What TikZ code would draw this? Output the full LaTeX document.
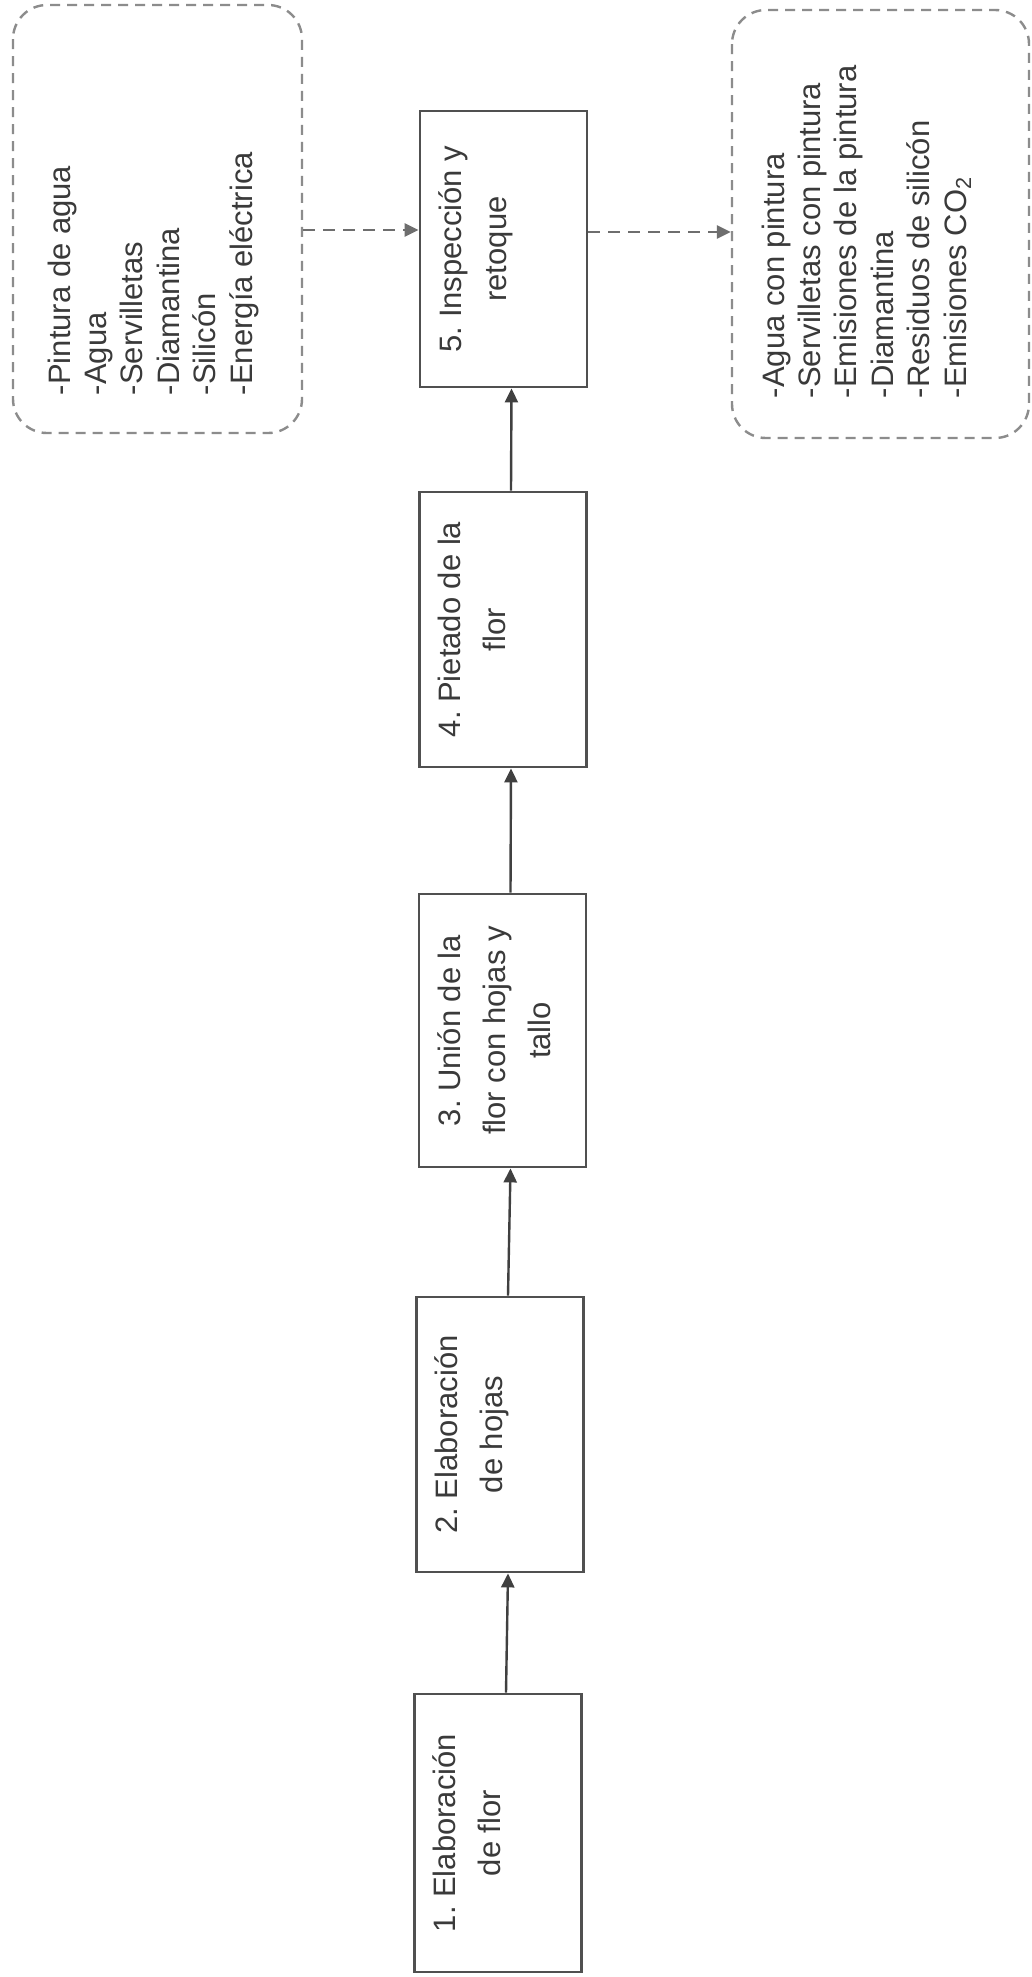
\documentclass[tikz,border=0pt]{standalone}
\usepackage{fontspec}
\setmainfont{Liberation Sans}
\usetikzlibrary{arrows.meta}
\definecolor{boxline}{HTML}{505050}
\definecolor{txt}{HTML}{3A3A3A}
\definecolor{dline}{HTML}{8C8C8C}
\definecolor{darrow}{HTML}{6E6E6E}
\definecolor{sarrow}{HTML}{404040}
\frenchspacing
\newcommand\steptext[2]{\parbox[c][83.5pt][t]{#1}{\centering\fontsize{15.5pt}{22.5pt}\selectfont\rule{0pt}{20.5pt}#2}}
\newcommand\listtext[5]{\parbox[c][#2][t]{#1}{\raggedright\leftskip=#3\relax\fontsize{15.5pt}{18.2pt}\selectfont\rule{0pt}{#4}#5}}
\begin{document}
\begin{tikzpicture}[x=0.5pt,y=-0.5pt,
 stepbox/.style={draw=boxline,line width=1.4pt,rotate=90,inner sep=0pt,text=txt},
 listbox/.style={draw=dline,line width=1.2pt,dash pattern=on 5pt off 3.5pt,rounded corners=17pt,rotate=90,inner sep=0pt,text=txt},
 flow/.style={draw=sarrow,line width=1.2pt,-{Triangle[length=7pt,width=6.5pt]}},
 dflow/.style={draw=darrow,line width=1.3pt,dash pattern=on 6pt off 4pt,-{Triangle[length=7pt,width=6.5pt]}}]
\useasboundingbox (0,0) rectangle (1032,1977);
\fill[white] (0,0) rectangle (1032,1977);

\node[stepbox] (b1) at (498,1833) {\steptext{139pt}{1. Elaboración\\de flor}};
\node[stepbox] (b2) at (500,1434.5) {\steptext{137.5pt}{2. Elaboración\\de hojas}};
\node[stepbox] (b3) at (502.5,1030.5) {\steptext{136.5pt}{3. Unión de la\\flor con hojas y\\tallo}};
\node[stepbox] (b4) at (503,629.5) {\steptext{137.5pt}{4. Pietado de la\\flor}};
\node[stepbox] (b5) at (503.5,249) {\steptext{138pt}{5. Inspección y\\retoque}};

\node[listbox] (lb) at (157.5,219) {\listtext{214pt}{144.5pt}{19pt}{28.5pt}{-Pintura de agua\\-Agua\\-Servilletas\\-Diamantina\\-Silicón\\-Energía eléctrica}};
\node[listbox] (rb) at (880.5,224) {\listtext{214pt}{148.5pt}{20pt}{26pt}{-Agua con pintura\\-Servilletas con pintura\\-Emisiones de la pintura\\-Diamantina\\-Residuos de silicón\\-Emisiones CO\textsubscript{2}}};

\coordinate (inlvl) at (0,230);
\coordinate (outlvl) at (0,232);

\draw[flow] ([xshift=4pt]b1.east) -- ([xshift=4pt]b2.west);
\draw[flow] ([xshift=4pt]b2.east) -- ([xshift=4pt]b3.west);
\draw[flow] ([xshift=4pt]b3.east) -- ([xshift=4pt]b4.west);
\draw[flow] ([xshift=4pt]b4.east) -- ([xshift=4pt]b5.west);
\draw[dflow] (lb.south |- inlvl) -- (b5.north |- inlvl);
\draw[dflow] (b5.south |- outlvl) -- (rb.north |- outlvl);
\end{tikzpicture}
\end{document}
